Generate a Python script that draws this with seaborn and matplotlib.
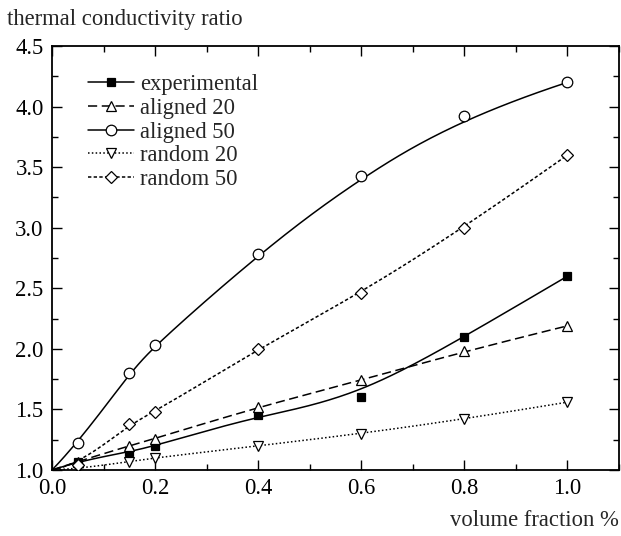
import numpy as np
import pandas as pd
import seaborn as sns
import matplotlib
matplotlib.use("Agg")
import matplotlib.pyplot as plt
from matplotlib.lines import Line2D
from matplotlib.ticker import MultipleLocator

# ---- data ----
volume_fraction = [0.05, 0.15, 0.2, 0.4, 0.6, 0.8, 1.0]
experimental = [1.07, 1.15, 1.20, 1.45, 1.60, 2.10, 2.60]
aligned_20 = [1.07, 1.20, 1.26, 1.52, 1.74, 1.98, 2.19]
aligned_50 = [1.22, 1.80, 2.03, 2.78, 3.43, 3.92, 4.20]
random_20 = [1.01, 1.07, 1.10, 1.20, 1.30, 1.42, 1.56]
random_50 = [1.04, 1.38, 1.48, 2.00, 2.46, 3.00, 3.60]
origin_x, origin_y = 0.0, 1.0
series_names = ["experimental", "aligned 20", "aligned 50", "random 20", "random 50"]
x_ticks = [0.0, 0.2, 0.4, 0.6, 0.8, 1.0]
y_ticks = [1.0, 1.5, 2.0, 2.5, 3.0, 3.5, 4.0, 4.5]

FS = 16.3
sns.set_theme(style="ticks")
plt.rcParams["font.family"] = ["Liberation Serif", "DejaVu Serif"]
plt.rcParams["font.size"] = FS


def bspline(xs, ys, n=300, k=3):
    P = np.column_stack([xs, ys])
    m = len(P)
    inner = np.arange(1, m - k) / (m - k)
    t = np.concatenate([np.zeros(k + 1), inner, np.ones(k + 1)])
    u = np.linspace(0, 1, n)
    u[-1] = 1 - 1e-12

    def N(i, p, uu):
        if p == 0:
            return np.where((t[i] <= uu) & (uu < t[i + 1]), 1.0, 0.0)
        d1 = t[i + p] - t[i]
        d2 = t[i + p + 1] - t[i + 1]
        out = np.zeros_like(uu)
        if d1 > 0:
            out += (uu - t[i]) / d1 * N(i, p - 1, uu)
        if d2 > 0:
            out += (t[i + p + 1] - uu) / d2 * N(i + 1, p - 1, uu)
        return out

    B = np.array([N(i, k, u) for i in range(m)])
    C = B.T @ P
    return C[:, 0], C[:, 1]


fig = plt.figure(figsize=(6.21, 5.36), dpi=100)
ax = fig.add_axes([52 / 621, 66 / 536, 567 / 621, 424 / 536])

styles = [
    (experimental, "-", "s", "black", 5.8),
    (aligned_20, (0, (6, 3)), "^", "white", 7.8),
    (aligned_50, "-", "o", "white", 7.6),
    (random_20, (0, (1, 1.5)), "v", "white", 7.8),
    (random_50, (0, (2.2, 1.5)), "D", "white", 6.0),
]

handles = []
for name, (vals, ls, mk, fc, ms) in zip(series_names, styles):
    cx, cy = bspline([origin_x] + volume_fraction, [origin_y] + vals)
    df = pd.DataFrame({"x": cx, "y": cy})
    sns.lineplot(data=df, x="x", y="y", ax=ax, color="black", linewidth=1.1,
                 linestyle=ls, sort=False, estimator=None, zorder=2)
    ax.plot(volume_fraction, vals, linestyle="none", marker=mk, markersize=ms,
            markerfacecolor=fc, markeredgecolor="black", markeredgewidth=0.9,
            zorder=3)
    handles.append(Line2D([], [], color="black", linewidth=1.1, linestyle=ls,
                          marker=mk, markersize=ms, markerfacecolor=fc,
                          markeredgecolor="black", markeredgewidth=0.9, label=name))

ax.set_xlim(0, 1.1)
ax.set_ylim(1.0, 4.5)
ax.set_xticks(x_ticks)
ax.set_xticklabels([f"{v:.1f}" for v in x_ticks])
ax.set_yticks(y_ticks)
ax.set_yticklabels([f"{v:.1f}" for v in y_ticks])
ax.xaxis.set_minor_locator(MultipleLocator(0.1))
ax.yaxis.set_minor_locator(MultipleLocator(0.25))
ax.tick_params(which="both", direction="in", top=True, right=True,
               labelsize=FS, colors="black", width=1.0)
ax.tick_params(which="major", length=7, pad=6)
ax.tick_params(which="minor", length=4)
ax.set_xlabel("")
ax.set_ylabel("")
for s in ax.spines.values():
    s.set_linewidth(1.3)
    s.set_color("black")

leg = ax.legend(handles=handles, loc="upper left", bbox_to_anchor=(0.048, 0.955),
                frameon=False, fontsize=FS, handlelength=2.0, handletextpad=0.3,
                labelspacing=0.12, borderaxespad=0.0)

fig.text(7 / 621, 1 - 19 / 536, "thermal conductivity ratio", fontsize=FS,
         ha="left", va="center")
fig.text(619 / 621, 1 - 520 / 536, "volume fraction %", fontsize=FS,
         ha="right", va="center")

fig.savefig("out.png", dpi=100)
